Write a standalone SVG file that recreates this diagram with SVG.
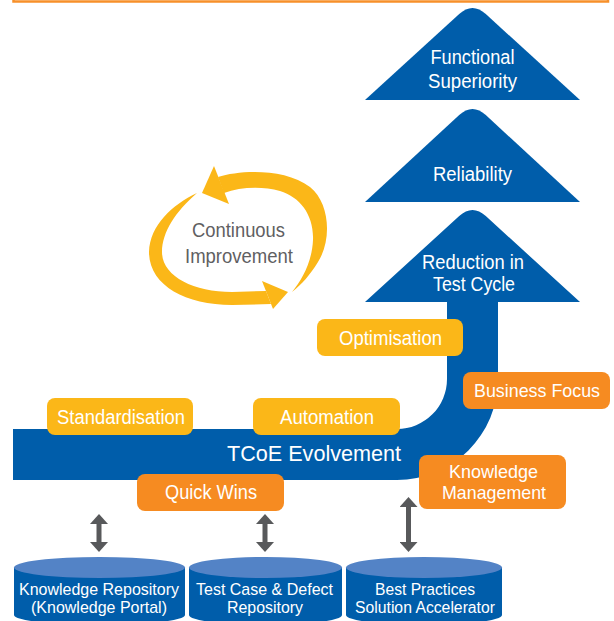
<svg xmlns="http://www.w3.org/2000/svg" width="614" height="621" viewBox="0 0 614 621">
<defs>
<style>
.t{font-family:"Liberation Sans Narrow","Liberation Sans",Arial,sans-serif;fill:#fff;text-anchor:middle}
.lg{font-size:20px}
.cy{font-size:17px}
.gr{fill:#5f6062}
.blue{fill:#005DAA}
.yel{fill:#FBB718}
.org{fill:#F68B21}
.ctop{fill:#5383C6}
.cyc{fill:#FBB718}
</style>
<marker id="ah" viewBox="0 -9 10 18" markerWidth="10" markerHeight="18" refX="4" refY="0" orient="auto-start-reverse" markerUnits="userSpaceOnUse"><path d="M0,-9 L10,0 L0,9 Z" fill="#58595B"/></marker>
</defs>
<rect x="13.5" y="-20" width="594.5" height="21.5" fill="none" stroke="#F7902A" stroke-width="2.5"/>

<g id="functional-superiority">
<path class="blue" d="M365,100 L459.2,14.1 Q472.5,2 485.8,14.1 L580,100 Z"/>
<text class="t lg" x="472.5" y="64" textLength="84" lengthAdjust="spacingAndGlyphs">Functional</text>
<text class="t lg" x="472.5" y="88" textLength="89" lengthAdjust="spacingAndGlyphs">Superiority</text>
</g>
<g id="reliability">
<path class="blue" d="M365,202 L459.2,115.1 Q472.5,103 485.8,115.1 L580,202 Z"/>
<text class="t lg" x="472.5" y="181" textLength="79" lengthAdjust="spacingAndGlyphs">Reliability</text>
</g>
<g id="tcoe-evolvement">
<path class="blue" d="M13,429 L397,429 A50,50 0 0 0 447,379 L447,302 L365,302 L459.2,216.1 Q472.5,204 485.8,216.1 L580,302 L498,302 L498,379 A101,101 0 0 1 397,480 L13,480 Z"/>
<text class="t lg" x="473" y="269" textLength="102" lengthAdjust="spacingAndGlyphs">Reduction in</text>
<text class="t lg" x="474" y="291" textLength="82" lengthAdjust="spacingAndGlyphs">Test Cycle</text>
<text class="t" style="font-size:22px" x="314" y="461" textLength="174" lengthAdjust="spacingAndGlyphs">TCoE Evolvement</text>
</g>

<g id="continuous-improvement">
<path class="cyc" d="M218,177 C240,170 285,168 310,187 C330,203 332,240 318,262 C310,275 302,284 292,292 C302,280 312,262 313,240 C314,215 300,197 280,191 C262,186 240,187 224,193 Z"/>
<polygon class="cyc" points="214,166 202,193 229,204"/>
<path class="cyc" d="M197,193 C172,205 150,225 149,252 C149,285 185,305 232,305 L271,304 L266,291 L232,292 C193,292 162,276 162,252 C162,232 176,211 197,193 Z"/>
<polygon class="cyc" points="262,281 288,292 273,309"/>
<text class="t gr" style="font-size:20px" x="238.5" y="237" textLength="93" lengthAdjust="spacingAndGlyphs">Continuous</text>
<text class="t gr" style="font-size:20px" x="239" y="263" textLength="108" lengthAdjust="spacingAndGlyphs">Improvement</text>
</g>

<g id="standardisation">
<rect class="yel" x="47" y="398" width="146" height="37" rx="8"/>
<text class="t lg" x="121" y="424" textLength="128" lengthAdjust="spacingAndGlyphs">Standardisation</text>
</g>
<g id="automation">
<rect class="yel" x="253" y="398" width="147" height="37" rx="8"/>
<text class="t lg" x="327" y="424" textLength="94" lengthAdjust="spacingAndGlyphs">Automation</text>
</g>
<g id="optimisation">
<rect class="yel" x="317" y="319" width="146" height="37" rx="8"/>
<text class="t lg" x="390.5" y="345" textLength="103" lengthAdjust="spacingAndGlyphs">Optimisation</text>
</g>
<g id="business-focus">
<rect class="org" x="463" y="372" width="147" height="37" rx="8"/>
<text class="t" style="font-size:19px" x="537" y="397" textLength="126" lengthAdjust="spacingAndGlyphs">Business Focus</text>
</g>
<g id="knowledge-management">
<rect class="org" x="419" y="455" width="147" height="54" rx="8"/>
<text class="t" style="font-size:19px" x="493.5" y="478" textLength="89" lengthAdjust="spacingAndGlyphs">Knowledge</text>
<text class="t" style="font-size:19px" x="494" y="499" textLength="104" lengthAdjust="spacingAndGlyphs">Management</text>
</g>
<g id="quick-wins">
<rect class="org" x="137" y="474" width="147" height="37" rx="8"/>
<text class="t lg" x="211" y="499" textLength="92" lengthAdjust="spacingAndGlyphs">Quick Wins</text>
</g>

<g id="knowledge-repository">
<path class="blue" d="M14,567.5 L14,615 A85.5,10 0 0 0 185,615 L185,567.5 Z"/>
<ellipse class="ctop" cx="99.5" cy="567.5" rx="85.5" ry="10.5"/>
<text class="t cy" x="99" y="595" textLength="160" lengthAdjust="spacingAndGlyphs">Knowledge Repository</text>
<text class="t cy" x="99" y="613" textLength="136" lengthAdjust="spacingAndGlyphs">(Knowledge Portal)</text>
</g>
<g id="test-case-defect-repository">
<path class="blue" d="M189,567.5 L189,615 A76.5,10 0 0 0 342,615 L342,567.5 Z"/>
<ellipse class="ctop" cx="265.5" cy="567.5" rx="76.5" ry="10.5"/>
<text class="t cy" x="264.5" y="595" textLength="137" lengthAdjust="spacingAndGlyphs">Test Case &amp; Defect</text>
<text class="t cy" x="265" y="613" textLength="76" lengthAdjust="spacingAndGlyphs">Repository</text>
</g>
<g id="best-practices">
<path class="blue" d="M346,567.5 L346,615 A78,10 0 0 0 502,615 L502,567.5 Z"/>
<ellipse class="ctop" cx="424" cy="567.5" rx="78" ry="10.5"/>
<text class="t cy" x="425" y="595" textLength="100" lengthAdjust="spacingAndGlyphs">Best Practices</text>
<text class="t" style="font-size:16px" x="425" y="613" textLength="140" lengthAdjust="spacingAndGlyphs">Solution Accelerator</text>
</g>

<g id="connectors" stroke="#58595B" stroke-width="5" fill="none">
<line x1="99" y1="520" x2="99" y2="546" marker-start="url(#ah)" marker-end="url(#ah)"/>
<line x1="265" y1="520" x2="265" y2="546" marker-start="url(#ah)" marker-end="url(#ah)"/>
<line x1="408.5" y1="503" x2="408.5" y2="546" marker-start="url(#ah)" marker-end="url(#ah)"/>
</g>
</svg>
